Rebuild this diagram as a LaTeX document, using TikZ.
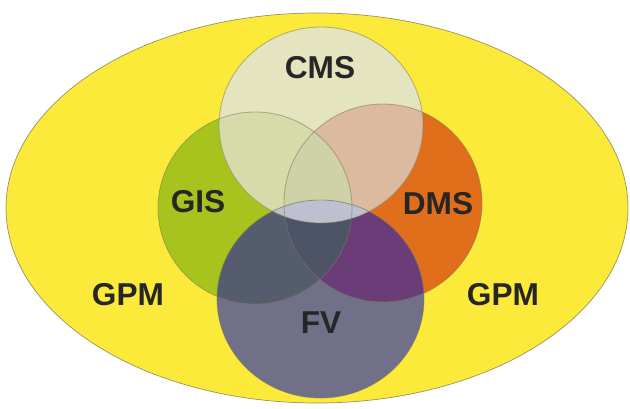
\documentclass[tikz,border=0pt]{standalone}
\usepackage{fontspec}
\setmainfont{Liberation Sans}
\usetikzlibrary{positioning}

\definecolor{gpmyellow}{RGB}{252,234,58}
\definecolor{cmscream}{RGB}{228,228,192}
\definecolor{gisgreen}{RGB}{168,194,30}
\definecolor{dmsorange}{RGB}{224,110,26}
\definecolor{fvslate}{RGB}{112,112,136}
\definecolor{cmsgis}{RGB}{214,219,170}
\definecolor{cmsdms}{RGB}{220,186,160}
\definecolor{cmsgisdms}{RGB}{206,210,166}
\definecolor{cmsfv}{RGB}{190,192,210}
\definecolor{fvgis}{RGB}{84,92,110}
\definecolor{fvdms}{RGB}{106,60,120}
\definecolor{fvgisdms}{RGB}{78,84,104}
\definecolor{rimcol}{RGB}{130,122,84}

\begin{document}
\begin{tikzpicture}[
x=0.025cm, y=-0.025cm,
cmsset/.style={insert path={(321,125) ellipse [x radius=102, y radius=98]}},
gisset/.style={insert path={(255,208) ellipse [x radius=97, y radius=96]}},
dmsset/.style={insert path={(383,203) ellipse [x radius=99, y radius=99]}},
fvset/.style={insert path={(320.5,299) ellipse [x radius=103.5, y radius=99]}},
rim/.style={draw=rimcol, draw opacity=0.55, line width=0.6pt},
setlabel/.style={font=\bfseries\fontsize{22.5}{22.5}\selectfont, text=black!85, inner sep=0pt}
]
    \useasboundingbox (0,0) rectangle (630,408);

    %Universe
    \filldraw[fill=gpmyellow, draw=rimcol, draw opacity=0.8, line width=0.5pt]
        (317,208) ellipse [x radius=311, y radius=195];

    %Sets
    \fill[gisgreen] [gisset];
    \fill[dmsorange] [dmsset];
    \fill[cmscream] [cmsset];
    \fill[fvslate] [fvset];

    %Overlaps
    \begin{scope}
        \clip [gisset];
        \fill[cmsgis] [cmsset];
        \fill[fvgis] [fvset];
    \end{scope}
    \begin{scope}
        \clip [dmsset];
        \fill[cmsdms] [cmsset];
        \fill[fvdms] [fvset];
    \end{scope}
    \begin{scope}
        \clip [gisset];
        \clip [dmsset];
        \fill[cmsgisdms] [cmsset];
        \fill[fvgisdms] [fvset];
    \end{scope}
    \begin{scope}
        \clip [cmsset];
        \fill[cmsfv] [fvset];
    \end{scope}

    %Rims
    \draw[rim] [gisset];
    \draw[rim] [dmsset];
    \draw[rim] [cmsset];
    \draw[rim] [fvset];

    %Labels
    \node[setlabel] (cms)  at (320,68)  {CMS};
    \node[setlabel] (gis)  at (198,202) {GIS};
    \node[setlabel] (dms)  at (438,204) {DMS};
    \node[setlabel] (fv)   at (321,323) {FV};
    \node[setlabel] (gpmL) at (128,295) {GPM};
    \node[setlabel] (gpmR) at (503,295) {GPM};
\end{tikzpicture}
\end{document}
